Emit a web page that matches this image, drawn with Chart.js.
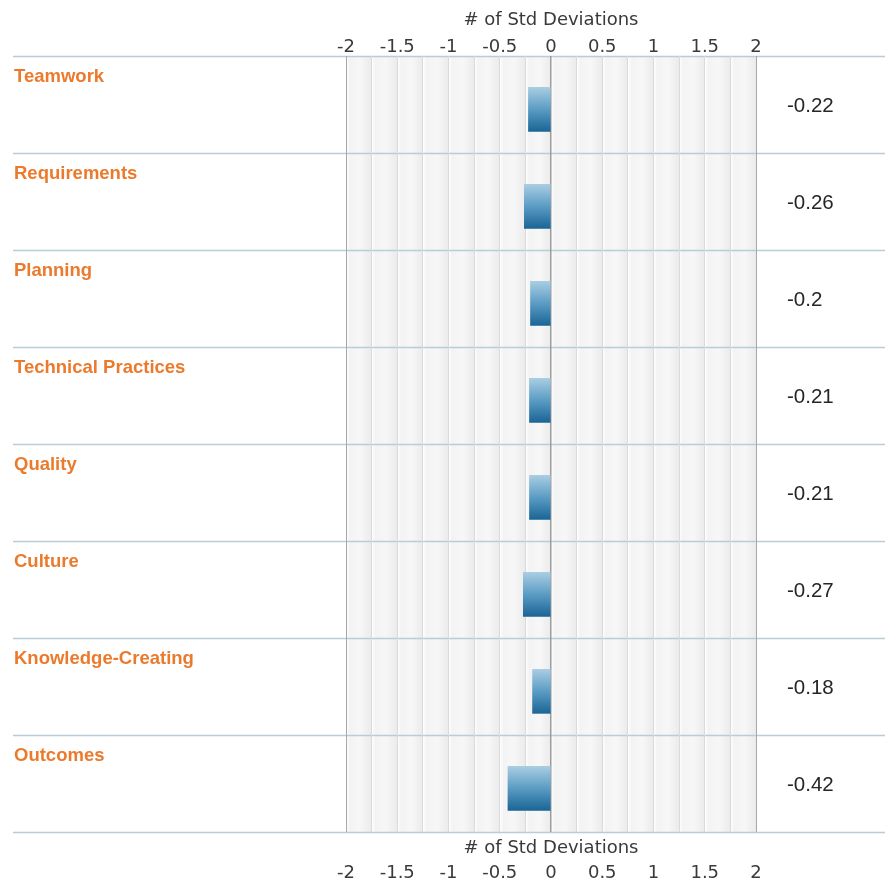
<!DOCTYPE html>
<html>
<head>
<meta charset="utf-8">
<script src="https://cdn.jsdelivr.net/npm/chart.js@4.4.1/dist/chart.umd.min.js"></script>
<style>
	html, body { margin: 0; padding: 0; background: #fff; }
	#wrap { width: 887px; height: 879px; position: relative; }
</style>
</head>
<body>
<div id="wrap"><canvas id="chart"></canvas></div>
<script>
const categories = [
	'Teamwork',
	'Requirements',
	'Planning',
	'Technical Practices',
	'Quality',
	'Culture',
	'Knowledge-Creating',
	'Outcomes',
];
const stdDeviations = [-0.22, -0.26, -0.2, -0.21, -0.21, -0.27, -0.18, -0.42];
const axisTitle = '# of Std Deviations';
const axisMin = -2;
const axisMax = 2;

const tickFont = { family: 'DejaVu Sans', size: 18 };
const tickColor = '#3a3a3a';

function tickLabel(value) {
	// labels only every half unit, minor lines every quarter
	if (Math.abs(value * 2 - Math.round(value * 2)) > 1e-6) return '';
	return String(Math.round(value * 10) / 10);
}

function gridColor(ctx) {
	const v = ctx.tick ? ctx.tick.value : null;
	if (v === 0) return '#9c9c9c';
	if (v === axisMin || v === axisMax) return '#a8a8a8';
	return '#dadada';
}

function barFill(ctx) {
	const chart = ctx.chart;
	const area = chart.chartArea;
	if (!area || ctx.type !== 'data') return '#3a86b4';
	const y = chart.scales.y.getPixelForValue(ctx.dataIndex);
	const g = chart.ctx.createLinearGradient(0, y - 22, 0, y + 22);
	g.addColorStop(0, '#a9cde2');
	g.addColorStop(0.5, '#5b9cc4');
	g.addColorStop(1, '#1b6596');
	return g;
}

// shaded bands between the quarter grid lines plus the row separators
const backdrop = {
	id: 'backdrop',
	beforeDraw(chart) {
		const { ctx, chartArea: a, scales } = chart;
		const x = scales.x;
		ctx.save();
		for (let v = axisMin; v < axisMax - 1e-6; v += 0.25) {
			const x0 = x.getPixelForValue(v);
			const x1 = x.getPixelForValue(v + 0.25);
			const g = ctx.createLinearGradient(x0, 0, x1, 0);
			g.addColorStop(0, '#ffffff');
			g.addColorStop(0.15, '#f3f3f3');
			g.addColorStop(0.55, '#f7f7f7');
			g.addColorStop(1, '#ebebeb');
			ctx.fillStyle = g;
			ctx.fillRect(x0, a.top, x1 - x0, a.bottom - a.top);
		}
		const rowH = (a.bottom - a.top) / categories.length;
		ctx.strokeStyle = '#b9cdd4';
		ctx.lineWidth = 1.5;
		for (let i = 0; i <= categories.length; i++) {
			const y = Math.round(a.top + i * rowH) + 0.5;
			ctx.beginPath();
			ctx.moveTo(13, y);
			ctx.lineTo(885, y);
			ctx.stroke();
		}
		ctx.restore();
	},
};

// category names at the top left of each row, values at the right
const rowText = {
	id: 'rowText',
	afterDraw(chart) {
		const { ctx, chartArea: a } = chart;
		const rowH = (a.bottom - a.top) / categories.length;
		ctx.save();
		ctx.textBaseline = 'alphabetic';
		ctx.textAlign = 'left';
		categories.forEach((name, i) => {
			const top = a.top + i * rowH;
			ctx.font = 'bold 18.5px "Liberation Sans", Arial, sans-serif';
			ctx.fillStyle = '#ec7a2c';
			ctx.fillText(name, 14, top + 26);
			ctx.font = '20.5px "Liberation Sans", Arial, sans-serif';
			ctx.fillStyle = '#262626';
			ctx.fillText(String(stdDeviations[i]), 787, top + 56);
		});
		ctx.restore();
	},
};

const ctx = document.getElementById('chart').getContext('2d');
new Chart(ctx, {
	type: 'bar',
	data: {
		datasets: [{
			data: stdDeviations.map((v, i) => ({ x: v, y: i })),
			backgroundColor: barFill,
			borderWidth: 0,
			barThickness: 44,
			xAxisID: 'x',
			yAxisID: 'y',
		}],
	},
	options: {
		indexAxis: 'y',
		responsive: true,
		maintainAspectRatio: false,
		animation: false,
		layout: { padding: { left: 346, right: 131, top: 0, bottom: 0 } },
		plugins: {
			legend: { display: false },
			tooltip: { enabled: false },
		},
		scales: {
			x: {
				type: 'linear',
				position: 'top',
				min: axisMin,
				max: axisMax,
				afterFit(scale) { scale.height = 56; },
				ticks: {
					stepSize: 0.25,
					autoSkip: false,
					maxRotation: 0,
					padding: -2,
					color: tickColor,
					font: tickFont,
					callback: tickLabel,
				},
				grid: {
					color: gridColor,
					lineWidth: (c) => (c.tick && c.tick.value === 0 ? 1.5 : 1),
					drawTicks: false,
				},
				border: { display: false },
				title: {
					display: true,
					text: axisTitle,
					color: tickColor,
					font: tickFont,
					padding: { top: 10, bottom: 0 },
				},
			},
			x2: {
				type: 'linear',
				position: 'bottom',
				min: axisMin,
				max: axisMax,
				afterFit(scale) { scale.height = 47; },
				ticks: {
					stepSize: 0.25,
					autoSkip: false,
					maxRotation: 0,
					padding: 31,
					color: tickColor,
					font: tickFont,
					callback: tickLabel,
				},
				grid: { display: false, drawTicks: false },
				border: { display: false },
				title: {
					display: true,
					text: axisTitle,
					color: tickColor,
					font: tickFont,
					padding: { top: 0, bottom: 20 },
				},
			},
			y: {
				type: 'linear',
				reverse: true,
				offset: false,
				bounds: 'data',
				min: -0.55,
				max: categories.length - 0.55,
				display: false,
			},
		},
	},
	plugins: [backdrop, rowText],
});
</script>
</body>
</html>
